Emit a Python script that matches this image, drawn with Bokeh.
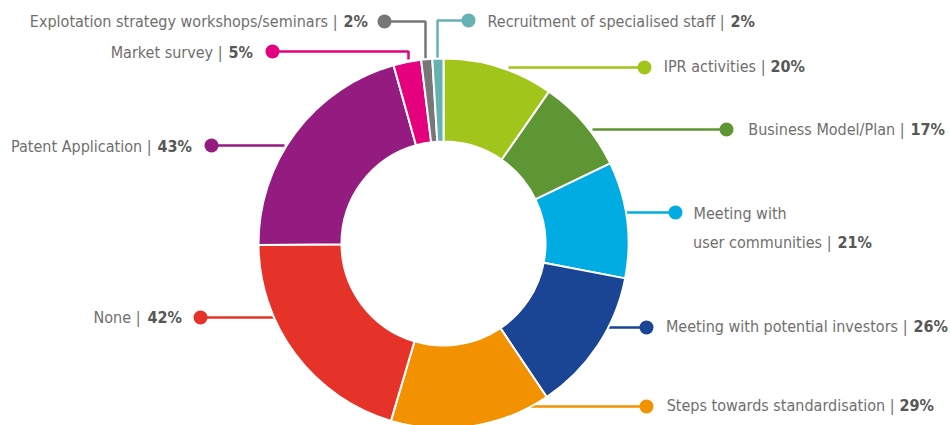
import math
from bokeh.plotting import figure
from bokeh.models import Range1d, ColumnDataSource
from bokeh.core.properties import value
from bokeh.embed import file_html
from bokeh.resources import INLINE

# ---- data (clockwise from 12 o'clock) ----
categories = ["IPR activities", "Business Model/Plan", "Meeting with user communities",
              "Meeting with potential investors", "Steps towards standardisation", "None",
              "Patent Application", "Market survey", "Explotation strategy workshops/seminars",
              "Recruitment of specialised staff"]
values = [20, 17, 21, 26, 29, 42, 43, 5, 2, 2]
colors = ["#A1C51A", "#5E9633", "#00ACE2", "#1A4494", "#F29200", "#E5332A",
          "#941B80", "#E5007E", "#787676", "#65B1B4"]
value_labels = ["%d%%" % v for v in values]

# ---- layout (reference pixel coordinates, y measured from top) ----
W, H = 950, 425
CX, CY, R_OUT, R_IN = 443, 243, 185, 102
FONT = "'DejaVu Sans Condensed', Roboto, sans-serif"
FS = "16px"
NAME_COLOR = "#6F6F6E"
BOLD_COLOR = "#575756"

def Y(y):
    return H - y

layout = {
    "IPR activities": dict(line=[(508, 67), (644, 67)], pipe=763, bold=770, ly=66),
    "Business Model/Plan": dict(line=[(592, 129), (726, 129)], pipe=902, bold=910, ly=129),
    "Meeting with user communities": dict(line=[(626, 212), (675, 212)], pipe=829, bold=837, ly=242,
                                          first=("Meeting with", 693, 213), name="user communities"),
    "Meeting with potential investors": dict(line=[(608, 327), (646, 327)], pipe=905, bold=913, ly=326),
    "Steps towards standardisation": dict(line=[(530, 406), (646, 406)], pipe=892, bold=899, ly=405),
    "None": dict(line=[(273, 317), (200, 317)], pipe=138, bold=147, ly=317),
    "Patent Application": dict(line=[(284, 145), (211, 145)], pipe=149, bold=157, ly=146),
    "Market survey": dict(line=[(408, 59), (408, 51), (272, 51)], pipe=220, bold=228, ly=51.5),
    "Explotation strategy workshops/seminars": dict(line=[(425, 58), (425, 21), (384, 21)], pipe=335, bold=343, ly=21),
    "Recruitment of specialised staff": dict(line=[(437, 58), (437, 20), (468, 20)], pipe=722, bold=730, ly=20.5),
}

p = figure(width=W, height=H, output_backend="svg", toolbar_location=None,
           x_range=Range1d(0, W), y_range=Range1d(0, H),
           x_axis_location=None, y_axis_location=None, min_border=0,
           outline_line_color=None, background_fill_color="white")
p.xgrid.visible = False
p.ygrid.visible = False

# leader lines and dots
for cat, col in zip(categories, colors):
    L = layout[cat]
    xs = [pt[0] for pt in L["line"]]
    ys = [Y(pt[1]) for pt in L["line"]]
    p.line(xs, ys, line_color=col, line_width=2.5)
    p.scatter([xs[-1]], [ys[-1]], size=14, fill_color=col, line_color=None)

# donut slices
total = float(sum(values))
starts, ends = [], []
acc = 0.0
for v in values:
    a0 = acc / total * 2 * math.pi
    acc += v
    a1 = acc / total * 2 * math.pi
    starts.append(math.pi / 2 - a1)
    ends.append(math.pi / 2 - a0)
src = ColumnDataSource(dict(start=starts, end=ends, color=colors, cat=categories, val=values))
p.annular_wedge(x=CX, y=Y(CY), inner_radius=R_IN, outer_radius=R_OUT,
                start_angle="start", end_angle="end", fill_color="color",
                line_color="white", line_width=2, source=src)

# labels
nx, ny, nt = [], [], []
bx, by, bt = [], [], []
fx, fy, ft = [], [], []
for cat, lab in zip(categories, value_labels):
    L = layout[cat]
    name = L.get("name", cat)
    nx.append(L["pipe"] + 2); ny.append(Y(L["ly"])); nt.append(name + " |")
    bx.append(L["bold"]); by.append(Y(L["ly"])); bt.append(lab)
    if "first" in L:
        t, x0, y0 = L["first"]
        fx.append(x0); fy.append(Y(y0)); ft.append(t)

p.text(x=nx, y=ny, text=nt, text_align="right", text_baseline="middle",
       text_font=value(FONT), text_font_size=FS, text_color=NAME_COLOR)
p.text(x=fx, y=fy, text=ft, text_align="left", text_baseline="middle",
       text_font=value(FONT), text_font_size=FS, text_color=NAME_COLOR)
p.text(x=bx, y=by, text=bt, text_align="left", text_baseline="middle",
       text_font=value(FONT), text_font_size=FS, text_font_style="bold", text_color=BOLD_COLOR)

open("out.html", "w").write(file_html(p, INLINE))
